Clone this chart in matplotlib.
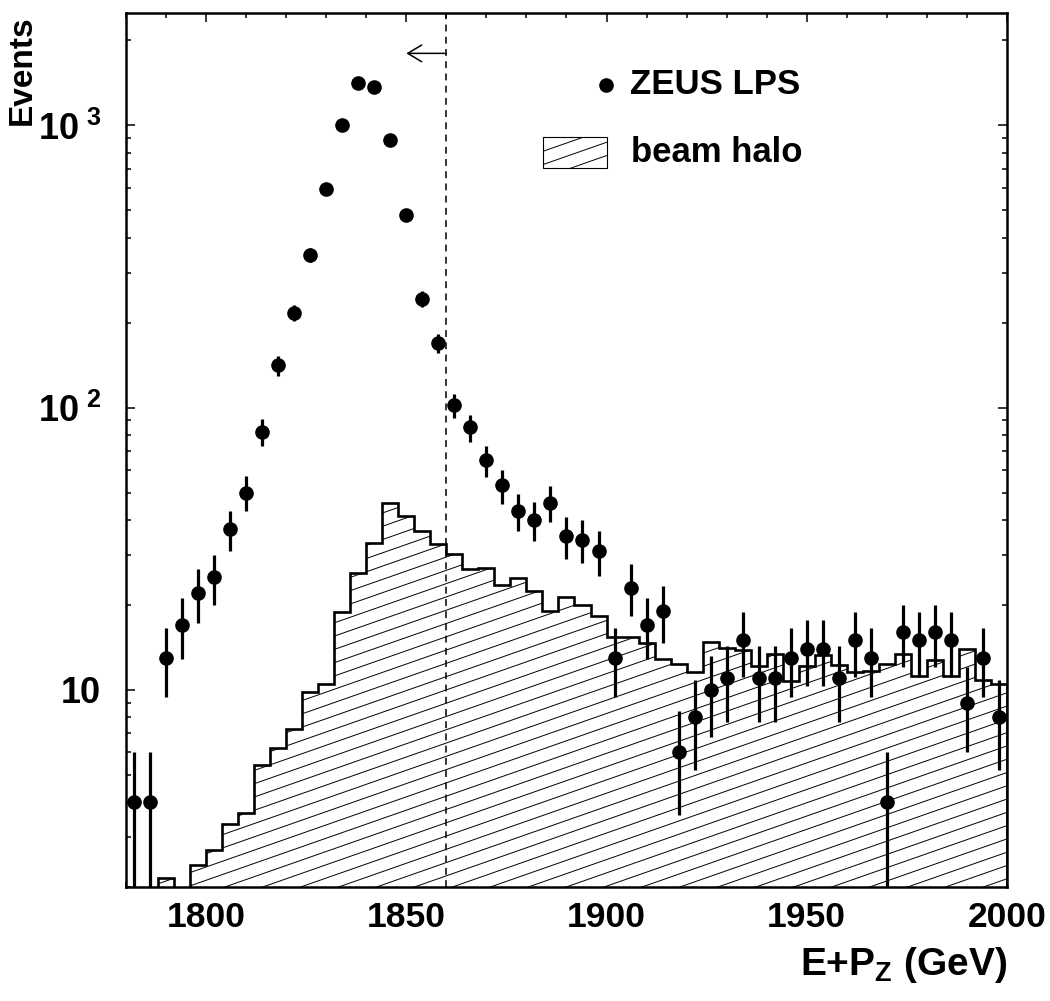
import numpy as np
import matplotlib
matplotlib.use("Agg")
import matplotlib.pyplot as plt
from matplotlib.collections import LineCollection
from matplotlib.patches import Rectangle
from matplotlib.ticker import MultipleLocator, LogLocator, FixedLocator, FixedFormatter, NullFormatter

plt.rcParams['font.family'] = ['Liberation Sans', 'DejaVu Sans']
plt.rcParams['font.weight'] = 'bold'
plt.rcParams['mathtext.fontset'] = 'custom'
plt.rcParams['mathtext.rm'] = 'Liberation Sans:bold'
plt.rcParams['mathtext.it'] = 'Liberation Sans:bold'
plt.rcParams['mathtext.bf'] = 'Liberation Sans:bold'

# 4 GeV bins from 1780 to 2000
bin_edges = np.arange(1780, 2001, 4)
bin_centers = bin_edges[:-1] + 2

# ZEUS LPS data (events per bin)
lps_counts = [4, 4, 13, 17, 22, 25, 37, 50, 82, 141,
              217, 348, 596, 1000, 1413, 1368, 890, 480, 243, 169,
              102, 85, 65, 53, 43, 40, 46, 35, 34, 31,
              13, 23, 17, 19, 6, 8, 10, 11, 15, 11,
              11, 13, 14, 14, 11, 15, 13, 4, 16, 15,
              16, 15, 9, 13, 8]
lps_errors = [2.0, 2.0, 3.6, 4.1, 4.7, 5.0, 6.1, 7.1, 9.1, 11.9,
              14.7, 18.7, 24.4, 31.6, 37.6, 37.0, 29.8, 21.9, 15.6, 13.0,
              10.1, 9.2, 8.1, 7.3, 6.6, 6.3, 6.8, 5.9, 5.8, 5.6,
              3.6, 4.8, 4.1, 4.4, 2.4, 2.8, 3.2, 3.3, 3.9, 3.3,
              3.3, 3.6, 3.7, 3.7, 3.3, 3.9, 3.6, 2.0, 4.0, 3.9,
              4.0, 3.9, 3.0, 3.6, 2.8]

# beam halo estimate (0 = empty bin)
halo = [0, 0, 2.15, 0, 2.4, 2.7, 3.35, 3.65, 5.4, 6.2,
        7.25, 9.8, 10.5, 18.9, 25.9, 33.0, 46.0, 41.4, 36.6, 32.9,
        30.3, 26.8, 27.0, 23.6, 24.9, 22.3, 19.0, 21.4, 20.0, 18.3,
        15.4, 15.4, 14.6, 12.9, 12.3, 11.6, 14.8, 14.1, 13.8, 12.1,
        13.4, 10.7, 12.1, 13.3, 12.2, 11.6, 11.7, 12.3, 13.4, 11.2,
        12.7, 11.2, 13.9, 10.8, 10.5]

cut = 1860


def add_hatch(ax, clip, slope=0.353, step=0.0152):
    # shallow diagonal hatching, drawn in axes coords and clipped to a patch
    segs = [[(0, c), (1, c + slope)] for c in np.arange(-0.45, 1.0, step)]
    lc = LineCollection(segs, colors='black', linewidths=0.7,
                        transform=ax.transAxes, zorder=2.2)
    ax.add_collection(lc)
    lc.set_clip_path(clip)


fig = plt.figure(figsize=(10.5, 10.01), dpi=100)
ax = fig.add_axes([0.12, 0.1139, 0.839, 0.873])

halo_plot = np.clip(halo, 0.01, None)
fill = ax.stairs(halo_plot, bin_edges, baseline=0.01, fill=True,
                 facecolor='white', edgecolor='none', zorder=2)
add_hatch(ax, fill)
ax.stairs(halo_plot, bin_edges, baseline=0.01, fill=False,
          color='black', linewidth=1.9, zorder=3)

ax.errorbar(bin_centers, lps_counts, yerr=lps_errors, fmt='o', color='black',
            markersize=9.5, elinewidth=2.3, capsize=0, zorder=4)

ax.axvline(cut, color='black', linewidth=1.1, linestyle=(0, (4.5, 3.5)), zorder=3)
ax.annotate('', xy=(1850, 1800), xytext=(cut, 1800),
            arrowprops=dict(arrowstyle='->,head_length=0.5,head_width=0.3',
                            color='black', lw=1.1, shrinkA=0, shrinkB=0,
                            mutation_scale=20))

ax.set_yscale('log')
ax.set_xlim(1780, 2000)
ax.set_ylim(2, 2500)

ax.xaxis.set_major_locator(MultipleLocator(50))
ax.xaxis.set_minor_locator(MultipleLocator(10))
ax.yaxis.set_major_locator(FixedLocator([10, 100, 1000]))
ax.yaxis.set_major_formatter(FixedFormatter(['10', r'$10^{\ 2}$', r'$10^{\ 3}$']))
ax.yaxis.set_minor_locator(LogLocator(base=10, subs=np.arange(2, 10)))
ax.yaxis.set_minor_formatter(NullFormatter())

ax.tick_params(which='both', direction='in', top=True, right=True, width=1.1)
ax.tick_params(which='major', length=6.5)
ax.tick_params(which='minor', length=3.5)
ax.tick_params(axis='x', pad=10, labelsize=25.5)
ax.tick_params(axis='y', pad=18, labelsize=26)
for lab in ax.get_xticklabels() + ax.get_yticklabels():
    lab.set_fontweight('bold')
for sp in ax.spines.values():
    sp.set_linewidth(1.8)

# legend drawn by hand
ax.plot([0.545], [0.918], 'o', color='black', markersize=9.5, transform=ax.transAxes)
ax.text(0.572, 0.918, 'ZEUS LPS', transform=ax.transAxes, fontsize=25,
        fontweight='bold', va='center', ha='left')
box = Rectangle((0.473, 0.823), 0.073, 0.035, transform=ax.transAxes,
                facecolor='white', edgecolor='black', linewidth=0.8, zorder=2.1)
ax.add_patch(box)
add_hatch(ax, box)
ax.text(0.573, 0.840, 'beam halo', transform=ax.transAxes, fontsize=25,
        fontweight='bold', va='center', ha='left')

fig.text(0.021, 0.985, 'Events', rotation=90, ha='center', va='top',
         fontsize=24, fontweight='bold')
fig.text(0.959, 0.036, r'E+P$_{Z}$ (GeV)', ha='right', va='center',
         fontsize=28, fontweight='bold')

fig.savefig('out.png', dpi=100)
